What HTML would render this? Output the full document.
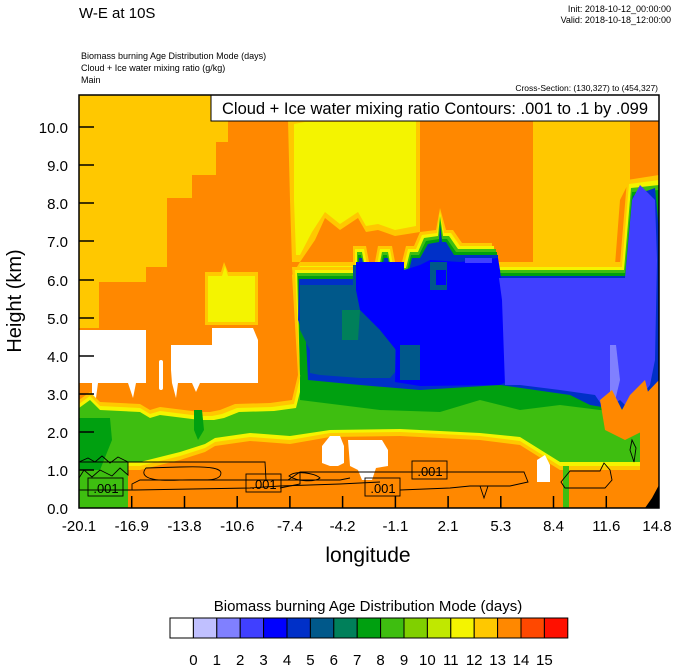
<!DOCTYPE html>
<html><head><meta charset="utf-8"><style>
html,body{margin:0;padding:0;background:#fff}
svg{display:block;font-family:"Liberation Sans",sans-serif}
</style></head><body>
<svg width="674" height="667" viewBox="0 0 674 667" xmlns="http://www.w3.org/2000/svg">
<rect width="674" height="667" fill="#fff"/>
<text x="79" y="18" font-size="15">W-E at 10S</text>
<text x="671" y="12" font-size="9" text-anchor="end">Init: 2018-10-12_00:00:00</text>
<text x="671" y="23" font-size="9" text-anchor="end">Valid: 2018-10-18_12:00:00</text>
<text x="81" y="59" font-size="9">Biomass burning Age Distribution Mode   (days)</text>
<text x="81" y="71" font-size="9">Cloud + Ice water mixing ratio   (g/kg)</text>
<text x="81" y="83" font-size="9">Main</text>
<text x="658" y="91" font-size="8.5" text-anchor="end">Cross-Section: (130,327) to (454,327)</text>
<defs><clipPath id="c"><rect x="79" y="95" width="580" height="413"/></clipPath></defs>
<g clip-path="url(#c)">
<rect x="79" y="95" width="580" height="413" fill="#FF8800"/>
<polygon fill="#FFC800" points="79,95 228,95 228,142 216,142 216,175 192,175 192,198 167,198 167,267 146,267 146,282 99,282 99,328 79,328"/>
<polygon fill="#FFC800" points="533,95 630,95 630,180 620,200 615,265 533,265"/>
<polygon fill="#FFC800" points="288,120 300,118 380,118 380,95 420,95 420,232 395,236 378,230 366,232 358,218 340,230 325,218 315,240 300,262 292,262 290,200"/>
<polygon fill="#F4F400" points="294,124 305,122 380,122 380,98 416,98 416,226 395,230 378,224 366,226 358,212 340,224 325,212 312,232 300,255 296,255 294,200"/>
<polygon fill="#FFC800" points="205,272 221,272 224,262 228,272 258,272 258,325 205,325"/>
<polygon fill="#F4F400" points="208,276 222,276 225,266 228,276 255,276 255,322 208,322"/>
<polygon fill="#fff" points="79,330 146,330 146,383 136,383 133,398 128,383 98,383 96,398 92,398 92,383 79,383"/>
<polygon fill="#fff" points="171,345 212,345 212,328 253,328 258,340 258,383 200,383 196,392 192,383 178,383 176,398 172,383 171,370"/>
<rect x="159" y="360" width="4" height="30" fill="#fff" rx="2"/>
<polygon fill="#FFC800" points="79,400 90,392 100,402 140,404 150,410 160,407 200,412 210,412 220,410 235,404 270,403 292,400 298,375 292,275 300,262 640,262 640,470 560,470 520,445 480,440 400,436 330,437 290,444 250,441 215,446 205,452 180,460 140,470 126,470 126,508 79,508"/>
<polygon fill="#F4F400" points="79,404 90,396 100,406 140,408 150,414 160,411 200,416 212,416 222,414 237,408 272,407 294,404 300,378 295,275 300,266 640,266 640,466 560,466 520,441 480,436 400,432 330,433 290,440 250,437 215,442 205,448 180,456 140,466 126,466 126,508 79,508"/>
<polygon fill="#3EBE10" points="79,408 90,400 100,410 140,412 150,418 160,415 200,420 214,420 224,418 239,412 274,411 296,408 303,380 298,278 302,270 640,270 640,462 560,462 520,437 480,433 400,429 330,430 290,436 250,433 215,438 205,444 180,452 140,462 128,462 128,508 79,508"/>
<polygon fill="#00A010" points="79,418 110,418 112,440 100,470 79,470"/>
<polygon fill="#00A010" points="300,378 305,273 640,273 640,415 600,410 560,405 520,410 480,400 440,412 380,410 340,405 300,400"/>
<polygon fill="#00A010" points="194,410 202,410 204,430 198,440 194,430"/>
<polygon fill="#FFC800" points="292,267 353,267 353,246 366,246 369,262 375,262 378,246 392,246 395,262 402,262 406,246 414,246 420,232 436,230 440,208 446,230 453,230 462,243 492,243 492,264 620,264 627,180 659,175 659,375 300,375"/>
<polygon fill="#F4F400" points="295,270 355,270 355,249 364,249 367,265 377,265 380,249 390,249 393,265 404,265 408,249 416,249 422,235 437,233 440,212 444,233 451,233 460,246 494,246 494,267 622,267 629,184 659,180 659,375 300,375"/>
<polygon fill="#3EBE10" points="297,273 357,273 357,252 362,252 365,268 379,268 382,252 388,252 391,268 406,268 410,252 418,252 424,238 438,236 440,216 443,236 449,236 458,249 496,249 496,270 624,270 631,188 659,185 659,375 300,375"/>
<polygon fill="#00A010" points="298,276 358,276 358,255 361,255 364,271 380,271 383,255 387,255 390,271 407,271 411,255 419,255 426,241 439,239 440,220 442,239 447,239 456,252 497,252 497,273 625,273 632,192 659,190 659,375 300,375"/>
<polygon fill="#0030C8" points="299,279 359,279 359,258 362,258 365,274 381,274 384,258 388,258 391,274 408,274 412,258 420,258 428,244 439,242 440,225 442,242 446,242 454,255 498,255 498,276 626,276 633,196 655,188 659,230 659,380 640,400 620,410 590,405 570,395 500,385 420,390 360,385 308,380 306,340 298,320"/>
<polygon fill="#00588A" points="300,285 353,285 353,265 400,265 400,305 395,305 395,372 390,378 360,378 320,375 310,373 310,350 300,330"/>
<polygon fill="#0000FF" points="356,262 404,262 404,270 420,265 430,260 460,262 498,258 500,270 502,290 505,300 510,380 500,385 420,386 395,382 396,350 380,330 360,310 356,290"/>
<polygon fill="#00588A" points="430,262 447,262 447,290 430,290"/>
<polygon fill="#0000FF" points="436,270 446,270 446,285 436,285"/>
<polygon fill="#00588A" points="400,345 420,345 420,380 400,380"/>
<polygon fill="#00805A" points="342,310 360,310 358,340 342,340"/>
<polygon fill="#4040FF" points="499,278 625,278 632,200 640,185 655,200 657,260 655,360 650,385 640,398 630,410 620,400 605,410 595,395 560,390 520,385 505,385 502,300"/>
<polygon fill="#8080FF" points="610,345 616,345 620,380 614,405 610,395"/>
<polygon fill="#4040FF" points="465,258 492,258 492,263 465,263"/>
<polygon fill="#FF8800" points="600,400 612,390 622,410 630,395 645,380 650,400 645,430 625,440 605,430"/>
<polygon fill="#fff" points="322,446 330,436 340,436 344,446 344,463 338,466 330,466 322,463"/>
<polygon fill="#fff" points="348,440 382,440 388,450 388,466 376,468 372,480 362,480 358,470 350,466"/>
<polygon fill="#fff" points="537,460 545,455 550,465 550,482 537,482"/>
<rect x="563" y="466" width="6" height="42" fill="#3EBE10"/>
<polygon fill="#000" points="659,485 659,508 645,508 652,498"/>
<g fill="none" stroke="#000" stroke-width="0.9">
<path d="M79,462 L88,458 L95,462 L102,456 L110,463 L118,457 L128,462 L128,475 L120,468 L112,476 L100,470 L92,477 L84,470 L79,478"/>
<path d="M79,462 L265,462 L266,480"/>
<path d="M146,468 C140,475 145,482 180,480 C200,479 215,482 220,476 C225,468 210,466 180,467 Z"/>
<path d="M79,490 L122,490 L135,490 L250,488 L280,486 L340,484 L380,482"/>
<path d="M132,490 L132,484 L140,480 L220,480 L226,480 L340,480 L350,478"/>
<path d="M288,480 L300,472 L470,472 L524,472 L528,482 L510,486 L470,486 L450,488 L400,490"/>
<path d="M280,488 L300,484 L300,472"/>
<path d="M289,476 C295,470 315,473 320,478 C315,482 298,482 289,476 Z"/>
<path d="M480,486 L484,498 L488,486"/>
<path d="M561,482 L570,471 L600,471 L604,463 L610,470 L612,480 L605,488 L565,488 Z"/>
<path d="M632,440 L636,448 L634,462 L630,450 Z"/>
</g>
<g font-size="13" text-anchor="middle">
<rect x="88" y="478" width="35" height="18" fill="none" stroke="#000" stroke-width="0.9"/>
<text x="106" y="493">.001</text>
<rect x="246" y="474" width="35" height="18" fill="none" stroke="#000" stroke-width="0.9"/>
<text x="264" y="489">.001</text>
<rect x="365" y="478" width="35" height="18" fill="none" stroke="#000" stroke-width="0.9"/>
<text x="383" y="493">.001</text>
<rect x="412" y="461" width="35" height="18" fill="none" stroke="#000" stroke-width="0.9"/>
<text x="430" y="476">.001</text>
</g>
</g>
<rect x="211" y="95" width="448" height="26" fill="#fff" stroke="#000" stroke-width="1"/>
<text x="435" y="114" font-size="16.5" text-anchor="middle">Cloud + Ice water mixing ratio Contours: .001 to .1 by .099</text>
<rect x="79" y="95" width="580" height="413" fill="none" stroke="#000" stroke-width="1.5"/>
<g stroke="#000" stroke-width="1.5">
<line x1="79" y1="470" x2="94" y2="470"/><line x1="79" y1="432" x2="94" y2="432"/><line x1="79" y1="394" x2="94" y2="394"/><line x1="79" y1="356" x2="94" y2="356"/><line x1="79" y1="318" x2="94" y2="318"/><line x1="79" y1="280" x2="94" y2="280"/><line x1="79" y1="241" x2="94" y2="241"/><line x1="79" y1="203" x2="94" y2="203"/><line x1="79" y1="165" x2="94" y2="165"/><line x1="79" y1="127" x2="94" y2="127"/>
<line x1="131.7" y1="508" x2="131.7" y2="496"/><line x1="184.5" y1="508" x2="184.5" y2="496"/><line x1="237.2" y1="508" x2="237.2" y2="496"/><line x1="289.9" y1="508" x2="289.9" y2="496"/><line x1="342.6" y1="508" x2="342.6" y2="496"/><line x1="395.4" y1="508" x2="395.4" y2="496"/><line x1="448.1" y1="508" x2="448.1" y2="496"/><line x1="500.8" y1="508" x2="500.8" y2="496"/><line x1="553.5" y1="508" x2="553.5" y2="496"/><line x1="606.3" y1="508" x2="606.3" y2="496"/>
</g>
<g font-size="15" text-anchor="end">
<text x="68" y="514">0.0</text><text x="68" y="476">1.0</text><text x="68" y="438">2.0</text><text x="68" y="400">3.0</text><text x="68" y="362">4.0</text><text x="68" y="324">5.0</text><text x="68" y="286">6.0</text><text x="68" y="247">7.0</text><text x="68" y="209">8.0</text><text x="68" y="171">9.0</text><text x="68" y="133">10.0</text>
</g>
<g font-size="15" text-anchor="middle">
<text x="79" y="531">-20.1</text><text x="131.7" y="531">-16.9</text><text x="184.5" y="531">-13.8</text><text x="237.2" y="531">-10.6</text><text x="289.9" y="531">-7.4</text><text x="342.6" y="531">-4.2</text><text x="395.4" y="531">-1.1</text><text x="448.1" y="531">2.1</text><text x="500.8" y="531">5.3</text><text x="553.5" y="531">8.4</text><text x="606.3" y="531">11.6</text><text x="657" y="531">14.8</text>
</g>
<text x="368" y="562" font-size="21" text-anchor="middle">longitude</text>
<text transform="translate(21,301) rotate(-90)" font-size="20" text-anchor="middle">Height (km)</text>
<text x="368" y="611" font-size="15" text-anchor="middle">Biomass burning Age Distribution Mode  (days)</text>
<g stroke="#000" stroke-width="1">
<rect x="170" y="618" width="23.4" height="20" fill="#FFFFFF"/>
<rect x="193.4" y="618" width="23.4" height="20" fill="#C0C0FF"/>
<rect x="216.8" y="618" width="23.4" height="20" fill="#8080FF"/>
<rect x="240.2" y="618" width="23.4" height="20" fill="#4040FF"/>
<rect x="263.6" y="618" width="23.4" height="20" fill="#0000FF"/>
<rect x="287" y="618" width="23.4" height="20" fill="#0030C8"/>
<rect x="310.4" y="618" width="23.4" height="20" fill="#00588A"/>
<rect x="333.8" y="618" width="23.4" height="20" fill="#00805A"/>
<rect x="357.2" y="618" width="23.4" height="20" fill="#00A010"/>
<rect x="380.6" y="618" width="23.4" height="20" fill="#3EBE10"/>
<rect x="404" y="618" width="23.4" height="20" fill="#80D000"/>
<rect x="427.4" y="618" width="23.4" height="20" fill="#C0E800"/>
<rect x="450.8" y="618" width="23.4" height="20" fill="#F4F400"/>
<rect x="474.2" y="618" width="23.4" height="20" fill="#FFC800"/>
<rect x="497.6" y="618" width="23.4" height="20" fill="#FF8800"/>
<rect x="521" y="618" width="23.4" height="20" fill="#FF4800"/>
<rect x="544.4" y="618" width="23.4" height="20" fill="#FF1000"/>
</g>
<g font-size="15" text-anchor="middle">
<text x="193.4" y="665">0</text><text x="216.8" y="665">1</text><text x="240.2" y="665">2</text><text x="263.6" y="665">3</text><text x="287" y="665">4</text><text x="310.4" y="665">5</text><text x="333.8" y="665">6</text><text x="357.2" y="665">7</text><text x="380.6" y="665">8</text><text x="404" y="665">9</text><text x="427.4" y="665">10</text><text x="450.8" y="665">11</text><text x="474.2" y="665">12</text><text x="497.6" y="665">13</text><text x="521" y="665">14</text><text x="544.4" y="665">15</text>
</g>
</svg>
</body></html>
